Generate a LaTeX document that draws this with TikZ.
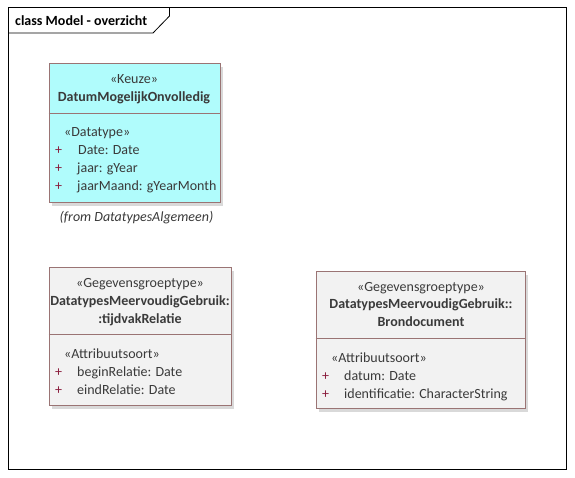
\documentclass[tikz,border=0pt]{standalone}
\usepackage{fontspec}
\setmainfont{Carlito}
\usepackage{tikz}

\definecolor{rand}{HTML}{9A7474}
\definecolor{keuzevul}{HTML}{B0FCFC}
\definecolor{grijsvul}{HTML}{F2F2F2}
\definecolor{tekst}{HTML}{3A3A3A}
\definecolor{plusrood}{HTML}{8A1C3C}

\begin{document}
\begin{tikzpicture}[
    x=1pt, y=-1pt,
    font=\fontsize{14}{18}\selectfont,
    klasse/.style={rectangle,draw=rand,line width=0.9pt,anchor=north west,inner sep=0pt},
    schaduw/.style={rectangle,fill=black!15,anchor=north west,inner sep=0pt},
    stereo/.style={text=tekst,inner sep=0pt,anchor=base},
    naam/.style={text=tekst,font=\fontsize{14}{18}\selectfont\bfseries,inner sep=0pt,anchor=base},
    attr/.style={text=tekst,inner sep=0pt,anchor=base west},
    plus/.style={text=plusrood,inner sep=0pt,anchor=base west},
    deler/.style={draw=rand,line width=0.9pt}
]
\useasboundingbox (0,0) rectangle (575,478);

% frame with title tab
\draw[line width=1pt] (8,8) rectangle (566,469);
\draw[line width=0.8pt] (8,33) -- (153,33) -- (169.5,16) -- (169.5,8);
\node[font=\fontsize{14}{18}\selectfont\bfseries,inner sep=0pt,anchor=base west] (titel) at (15,25.5) {class Model - overzicht};

% keuze
\node[schaduw,minimum width=171,minimum height=139] (keuzeschaduw) at (52,67) {};
\node[klasse,fill=keuzevul,minimum width=171,minimum height=139] (keuze) at (48.5,63.5) {};
\draw[deler] (keuze.west |- 0,113.5) -- (keuze.east |- 0,113.5);
\node[stereo] (keuzestereo) at (134,84) {«Keuze»};
\node[naam] (keuzenaam) at (134,102) {DatumMogelijkOnvolledig};
\node[stereo,anchor=base west] (datatype) at (64,137) {«Datatype»};
\node[plus] (p1) at (55,155) {+};
\node[attr] (a1) at (78,155) {Date: Date};
\node[plus] (p2) at (55,173) {+};
\node[attr] (a2) at (77,173) {jaar: gYear};
\node[plus] (p3) at (55,191) {+};
\node[attr] (a3) at (77,191) {jaarMaand: gYearMonth};
\node[text=tekst,font=\fontsize{14}{18}\selectfont\itshape,inner sep=0pt,anchor=base] (herkomst) at (136.5,221.5) {(from DatatypesAlgemeen)};

% tijdvakrelatie
\node[schaduw,minimum width=182,minimum height=138] (tijdvakschaduw) at (52,270.5) {};
\node[klasse,fill=grijsvul,minimum width=182,minimum height=138] (tijdvak) at (48.5,267) {};
\draw[deler] (tijdvak.west |- 0,334) -- (tijdvak.east |- 0,334);
\node[stereo] (tijdvakstereo) at (140,287.5) {«Gegevensgroeptype»};
\node[naam] (tijdvaknaam1) at (140,305) {DatatypesMeervoudigGebruik:};
\node[naam] (tijdvaknaam2) at (140,323) {:tijdvakRelatie};
\node[stereo,anchor=base west] (attrsoort1) at (64,358) {«Attribuutsoort»};
\node[plus] (p4) at (55,376) {+};
\node[attr] (a4) at (77,376) {beginRelatie: Date};
\node[plus] (p5) at (55,394) {+};
\node[attr] (a5) at (77,394) {eindRelatie: Date};

% brondocument
\node[schaduw,minimum width=209,minimum height=137] (bronschaduw) at (319,274.5) {};
\node[klasse,fill=grijsvul,minimum width=209,minimum height=137] (bron) at (315.5,271) {};
\draw[deler] (bron.west |- 0,338.5) -- (bron.east |- 0,338.5);
\node[stereo] (bronstereo) at (421,291) {«Gegevensgroeptype»};
\node[naam] (bronnaam1) at (421,308.5) {DatatypesMeervoudigGebruik::};
\node[naam] (bronnaam2) at (421,326.5) {Brondocument};
\node[stereo,anchor=base west] (attrsoort2) at (331,362) {«Attribuutsoort»};
\node[plus] (p6) at (322,380) {+};
\node[attr] (a6) at (344,380) {datum: Date};
\node[plus] (p7) at (322,398) {+};
\node[attr] (a7) at (344,398) {identificatie: CharacterString};

\end{tikzpicture}
\end{document}
